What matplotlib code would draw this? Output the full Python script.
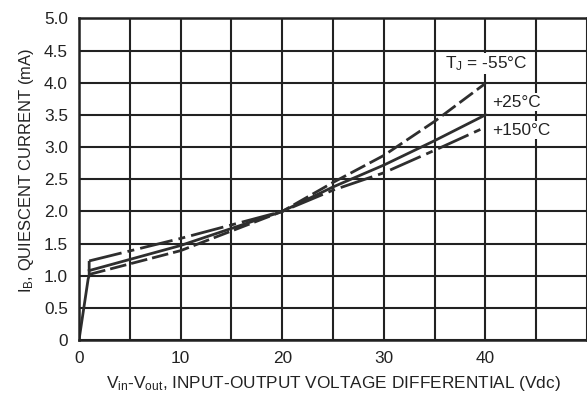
import matplotlib
matplotlib.use("Agg")
import matplotlib.pyplot as plt
import numpy as np

plt.rcParams['font.family'] = ['Liberation Sans', 'DejaVu Sans']
plt.rcParams['mathtext.fontset'] = 'custom'
plt.rcParams['mathtext.rm'] = 'Liberation Sans'
plt.rcParams['mathtext.it'] = 'Liberation Sans'

# turn-on portion shared by all curves (solid)
startup_x = [0, 0.9, 1.0, 1.0]
startup_y = [0, 0.95, 1.0, 1.23]

# curves after turn-on
vdiff = [1, 10, 20, 25, 30, 35, 40]
ib_m55 = [1.02, 1.39, 2.0, 2.45, 2.87, 3.4, 3.99]
ib_p25 = [1.08, 1.47, 2.0, 2.38, 2.72, 3.1, 3.5]
ib_p150 = [1.23, 1.58, 2.0, 2.33, 2.6, 2.95, 3.31]

labels = ["T$_\\mathregular{J}$ = -55°C", "+25°C", "+150°C"]
label_pos = [(36.0, 4.3), (40.7, 3.7), (40.7, 3.26)]

fig = plt.figure(figsize=(5.87, 4.01), dpi=100)
ax = fig.add_axes([0.1346, 0.152, 0.8654, 0.802])

lc = '#2e2e2e'
ax.plot(startup_x, startup_y, color=lc, lw=2.0, solid_capstyle='butt')
ax.plot(vdiff, ib_m55, color=lc, lw=2.0, dashes=(6, 1.8))
ax.plot(vdiff, ib_p25, color=lc, lw=2.0)
ax.plot(vdiff, ib_p150, color=lc, lw=2.0, dashes=(12, 2.2, 2.5, 2.2))

for txt, (x, y) in zip(labels, label_pos):
    ax.text(x, y, txt, fontsize=12.4, va='center', ha='left', color='#222222',
            bbox=dict(facecolor='white', edgecolor='none', pad=1))

ax.set_xlim(0, 50)
ax.set_ylim(0, 5)
ax.set_xticks(np.arange(0, 51, 5))
ax.set_xticklabels(['0', '', '10', '', '20', '', '30', '', '40', '', ''])
ax.set_yticks(np.arange(0, 5.01, 0.5))
ax.set_yticklabels(['0'] + ['%.1f' % v for v in np.arange(0.5, 5.01, 0.5)])
ax.tick_params(length=0, labelsize=12.4, colors='#222222', pad=8)
ax.grid(True, color='#222222', lw=1.5)
ax.set_axisbelow(True)
for s in ax.spines.values():
    s.set_linewidth(1.8)
    s.set_color('#222222')

ax.set_xlabel("V$_\\mathregular{in}$-V$_\\mathregular{out}$, INPUT-OUTPUT VOLTAGE DIFFERENTIAL (Vdc)",
              fontsize=12.4, color='#222222', labelpad=6)
ax.set_ylabel("I$_\\mathregular{B}$, QUIESCENT CURRENT (mA)", fontsize=11.9, color='#222222')
ax.yaxis.set_label_coords(-0.085, 0.528)

fig.savefig("out.png", dpi=100)
